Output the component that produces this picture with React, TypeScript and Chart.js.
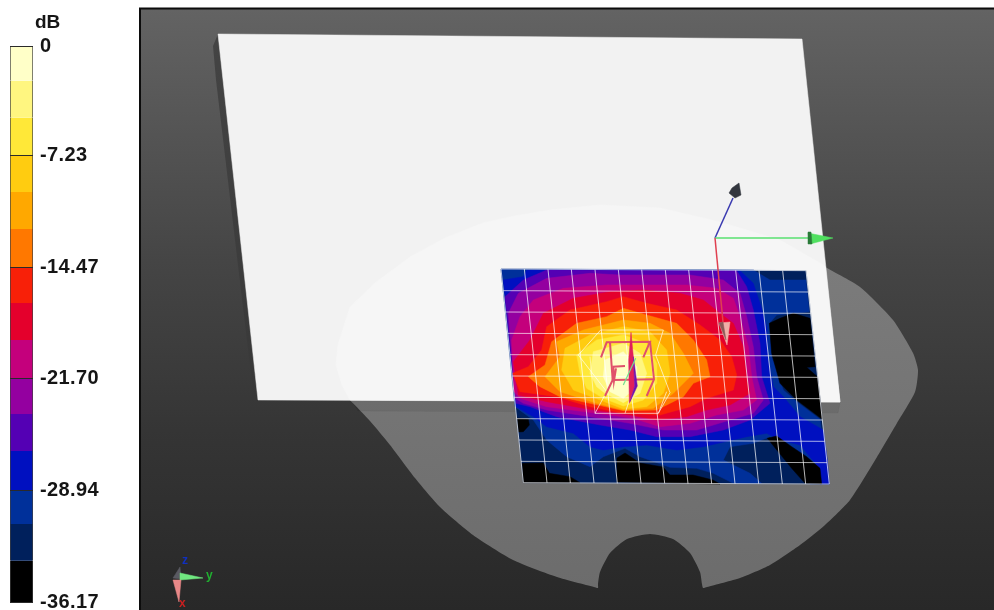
import React, { useEffect, useRef } from "react";
import { Chart, registerables } from "chart.js";

Chart.register(...registerables);

type P = number[][];

// ---------- colour scale ----------
const scaleTickValues = [-0.13, -7.23, -14.47, -21.7, -28.94, -36.17];
const scaleTickLabels = ["0", "-7.23", "-14.47", "-21.70", "-28.94", "-36.17"];
const bandEdges = [-0.13, -2.38, -4.78, -7.23, -9.59, -11.99, -14.47, -16.79, -19.18, -21.71, -23.98, -26.38, -28.97, -31.11, -33.49, -36.17];
const bandColors = ["#FFFFC8", "#FFF680", "#FFE838", "#FFCC10", "#FFA800", "#FF7800", "#F82008", "#E4002C", "#C4007C", "#9400A0", "#5400B4", "#0010C0", "#00309A", "#00205C", "#000000"];

// ---------- scene outlines (screen units) ----------
const sceneBack: P = [[141, 9], [994, 9], [994, 610], [141, 610]];
const frameLine: P = [[140, 610], [140, 8.5], [994, 8.5]];
const plate: P = [[218, 34], [802, 39], [840, 402], [258, 400]];
const plateSide: P = [[218, 34], [213, 46], [216, 80], [254, 400], [258, 400]];
const phantom: P = [[350, 400], [342, 385], [336, 365], [338, 345], [350, 307], [375, 283], [410, 257], [445, 238], [483, 223], [550, 210], [600, 205], [660, 208], [720, 222], [780, 240], [827, 268], [860, 287], [893, 320], [913, 353], [918, 370], [915, 392], [897, 423], [877, 457], [850, 500], [825, 525], [800, 545], [770, 565], [740, 578], [707, 587], [703, 588]];
const phantomNotch: P = [[702, 584], [700, 572], [690, 553], [673, 539], [650, 534], [627, 539], [610, 553], [600, 572], [598, 584], [598, 588]];
const phantomLower: P = [[594, 587], [557, 577], [513, 560], [473, 535], [440, 507], [415, 478], [390, 445], [370, 421]];
const phantomOnPlate: P = [[350, 400], [342, 385], [336, 365], [338, 345], [350, 307], [375, 283], [410, 257], [445, 238], [483, 223], [515, 216], [550, 210], [600, 205], [660, 208], [720, 222], [780, 240], [825, 266], [840, 402]];
const plateShadow: P = [[352, 401], [840, 403], [838, 413], [358, 411]];

// ---------- scan contours (scan units) ----------
const scanQuad: P = [[33, 27], [948, 32], [1018, 672], [100, 668]];
const blackRight: P = [[870, 175], [910, 160], [960, 175], [975, 320], [950, 322], [982, 350], [997, 478], [920, 420], [870, 370], [845, 280], [838, 190]];
const blackBottomRight: P = [[832, 535], [860, 528], [905, 560], [950, 590], [990, 625], [995, 672], [945, 670], [905, 625]];
const blackBottomLeft: P = [[97, 610], [160, 609], [178, 640], [240, 650], [270, 668], [100, 668]];
const blackBottomMid: P = [[381, 666], [381, 594], [405, 579], [450, 609], [519, 621], [540, 645], [609, 645], [669, 660], [690, 672]];
const blackLeft: P = [[82, 474], [115, 478], [118, 495], [100, 515], [86, 516]];
const contourMidBlue: P = [[33, 27], [790, 30], [840, 60], [948, 60], [958, 155], [860, 165], [838, 190], [845, 290], [880, 390], [920, 425], [990, 478], [1018, 672], [960, 672], [890, 600], [840, 530], [790, 550], [720, 560], [700, 600], [780, 640], [815, 670], [730, 670], [670, 640], [620, 625], [540, 622], [450, 590], [405, 565], [340, 590], [300, 620], [230, 590], [170, 540], [130, 480], [75, 440]];
const contourBlue: P = [[40, 60], [100, 50], [110, 30], [750, 32], [790, 70], [810, 130], [830, 200], [835, 300], [850, 380], [880, 410], [930, 470], [1000, 510], [1012, 600], [1018, 672], [990, 672], [985, 620], [930, 555], [870, 540], [830, 520], [770, 530], [640, 560], [560, 570], [470, 555], [400, 560], [340, 570], [300, 560], [250, 520], [170, 500], [130, 470], [78, 440]];
const contourViolet: P = [[45, 110], [100, 60], [170, 30], [740, 32], [770, 80], [790, 150], [810, 250], [815, 350], [840, 430], [780, 480], [700, 510], [600, 530], [500, 530], [420, 510], [330, 495], [200, 470], [120, 440], [78, 430]];
const contourPurple: P = [[55, 160], [85, 100], [170, 55], [300, 40], [390, 45], [600, 45], [700, 60], [750, 100], [770, 170], [790, 260], [800, 350], [820, 420], [790, 460], [720, 480], [620, 510], [520, 510], [420, 490], [300, 470], [170, 450], [100, 430], [76, 415]];
const contourMagenta: P = [[65, 240], [90, 170], [130, 120], [220, 85], [350, 75], [590, 75], [680, 85], [730, 115], [750, 170], [775, 260], [785, 350], [800, 420], [760, 450], [680, 465], [600, 490], [510, 500], [430, 475], [320, 460], [170, 440], [90, 415], [72, 395]];
const contourCrimson: P = [[70, 305], [120, 240], [160, 160], [250, 115], [360, 95], [460, 90], [570, 100], [640, 120], [690, 160], [730, 190], [760, 260], [770, 350], [780, 400], [720, 435], [650, 450], [590, 470], [500, 480], [420, 465], [310, 450], [170, 425], [85, 405]];
const contourRed: P = [[68, 340], [115, 320], [155, 270], [170, 200], [240, 150], [350, 125], [400, 110], [470, 130], [560, 150], [630, 195], [690, 240], [725, 290], [740, 345], [730, 390], [650, 415], [600, 440], [510, 465], [400, 460], [300, 440], [200, 410], [90, 395]];
const contourOrange: P = [[115, 350], [165, 315], [185, 245], [260, 190], [350, 170], [400, 145], [470, 165], [560, 190], [610, 240], [650, 300], [660, 350], [610, 370], [580, 410], [500, 450], [400, 452], [300, 430], [210, 410], [150, 380]];
const contourAmber: P = [[165, 350], [210, 290], [200, 245], [280, 210], [400, 180], [480, 190], [540, 220], [580, 280], [610, 340], [590, 360], [550, 400], [490, 445], [400, 450], [320, 430], [210, 395]];
const contourGold: P = [[215, 330], [225, 265], [300, 225], [400, 200], [480, 215], [530, 270], [540, 340], [520, 400], [470, 440], [400, 447], [330, 420], [250, 390]];
const contourYellow: P = [[270, 340], [260, 285], [320, 240], [400, 225], [470, 250], [500, 310], [500, 370], [460, 420], [400, 438], [340, 415], [290, 385]];
const contourPaleYellow: P = [[300, 340], [310, 275], [400, 250], [450, 280], [470, 340], [450, 400], [400, 428], [345, 400], [320, 380]];
const contourCream: P = [[340, 350], [345, 300], [400, 275], [440, 320], [440, 380], [400, 415], [360, 395]];

// grid of the scan
const gridTopX = [33, 103, 174, 244, 315, 385, 455, 526, 596, 667, 737, 807, 878, 948];
const gridTopY = [27, 27, 28, 28, 29, 29, 29, 30, 30, 30, 31, 31, 32, 32];
const gridBottomX = [100, 171, 241, 312, 382, 453, 524, 594, 665, 735, 806, 877, 947, 1018];
const gridBottomY = [668, 668, 669, 669, 670, 670, 670, 671, 671, 671, 671, 672, 672, 672];
const gridLeftX = [33, 40, 47, 53, 60, 67, 73, 80, 87, 93, 100];
const gridLeftY = [27, 92, 156, 220, 284, 348, 412, 476, 540, 604, 668];
const gridRightX = [948, 955, 962, 969, 976, 983, 990, 997, 1004, 1011, 1018];
const gridRightY = [32, 96, 160, 224, 288, 352, 416, 480, 544, 608, 672];

// wireframes over the scan
const boxOutline: P = [[332, 210], [520, 210], [497, 285], [540, 398], [505, 460], [315, 460], [350, 395], [265, 285], [332, 210]];
const boxInnerA: P = [[405, 460], [420, 415]];
const boxInnerB: P = [[505, 460], [530, 395]];
const boxInnerC: P = [[300, 290], [315, 460]];
const frameTop: P = [[333, 292], [350, 247], [480, 245], [460, 292]];
const frameRight: P = [[480, 245], [492, 358], [470, 408]];
const frameBase: P = [[345, 408], [368, 360], [492, 358]];
const frameLeft: P = [[360, 248], [368, 360]];
const frameInner: P = [[405, 318], [370, 320], [372, 362], [378, 325]];
const bladeWarm: P = [[423, 217], [430, 290], [434, 378], [418, 430], [416, 300]];
const bladeCool: P = [[430, 290], [442, 378], [420, 425], [434, 378]];
const feedLine: P = [[400, 375], [437, 295]];

// axis triad
const axisRed: P = [[715, 238], [723, 322]];
const axisGreen: P = [[715, 238], [810, 238]];
const axisBlue: P = [[715, 238], [733, 198]];
const coneRed: P = [[719, 323], [730, 322], [727, 345]];
const coneRedShade: P = [[719, 323], [723, 322], [726, 340]];
const coneGreen: P = [[808, 233], [833, 238], [810, 244]];
const coneGreenBase: P = [[808, 232], [811, 232], [812, 244], [808, 244]];
const coneBlue: P = [[739, 183], [741, 195], [735, 198], [729, 193], [732, 188]];
const miniGreen: P = [[180, 573], [203, 578], [180, 580]];
const miniRed: P = [[173, 580], [181, 580], [179, 602]];
const miniGrey: P = [[173, 578], [180, 567], [181, 579]];

const pts = (p: P) => p.map(([x, y]) => ({ x, y }));
const close = (p: P) => [...p, p[0]];

const poly = (p: P, color: any, scan = false, tension = 0) => ({
  data: pts(close(p)),
  showLine: true,
  fill: "shape",
  backgroundColor: color,
  borderColor: typeof color === "string" ? color : "transparent",
  borderWidth: 0.5,
  pointRadius: 0,
  tension,
  xAxisID: scan ? "sx" : "x",
  yAxisID: scan ? "sy" : "y",
});
const line = (p: P, color: string, width = 1, scan = false) => ({
  data: pts(p),
  showLine: true,
  fill: false,
  borderColor: color,
  backgroundColor: color,
  borderWidth: width,
  pointRadius: 0,
  xAxisID: scan ? "sx" : "x",
  yAxisID: scan ? "sy" : "y",
});

const textStyle = (left: number, top: number, color: string, size: number): React.CSSProperties => ({
  position: "absolute",
  left,
  top,
  color,
  fontFamily: '"Liberation Sans", sans-serif',
  fontWeight: 700,
  fontSize: size,
  lineHeight: 1,
});

export default function App() {
  const sceneRef = useRef<HTMLCanvasElement>(null);
  const barRef = useRef<HTMLCanvasElement>(null);

  useEffect(() => {
    document.body.style.margin = "0";
    const ctx = sceneRef.current!.getContext("2d")!;
    const bg = ctx.createLinearGradient(0, 9, 0, 610);
    bg.addColorStop(0, "#636363");
    bg.addColorStop(0.42, "#454545");
    bg.addColorStop(0.7, "#353535");
    bg.addColorStop(1, "#282828");
    const ph = ctx.createLinearGradient(0, 205, 0, 590);
    ph.addColorStop(0, "#7e7e7e");
    ph.addColorStop(1, "#6c6c6c");
    const side = ctx.createLinearGradient(0, 34, 0, 400);
    side.addColorStop(0, "#444444");
    side.addColorStop(1, "#383838");

    const grid: any[] = [];
    gridTopX.forEach((x, i) => grid.push(line([[x, gridTopY[i]], [gridBottomX[i], gridBottomY[i]]], "rgba(255,255,255,0.72)", 1, true)));
    gridLeftX.forEach((x, i) => grid.push(line([[x, gridLeftY[i]], [gridRightX[i], gridRightY[i]]], "rgba(255,255,255,0.66)", 1, true)));

    const layers: any[] = [
      poly(sceneBack, bg),
      poly([...phantom, ...phantomNotch, ...phantomLower], ph, false, 0.2),
      poly(plateShadow, "rgba(0,0,0,0.07)"),
      poly(plateSide, side),
      poly(plate, "#F2F2F2"),
      poly(phantomOnPlate, "#F6F6F6"),
      poly(scanQuad, bandColors[13], true),
      poly(blackBottomLeft, bandColors[14], true),
      poly(contourMidBlue, bandColors[12], true),
      poly(blackRight, bandColors[14], true),
      poly(blackBottomMid, bandColors[14], true),
      poly(blackLeft, bandColors[14], true),
      poly(contourBlue, bandColors[11], true),
      poly(blackBottomRight, bandColors[14], true),
      poly(contourViolet, bandColors[10], true),
      poly(contourPurple, bandColors[9], true),
      poly(contourMagenta, bandColors[8], true),
      poly(contourCrimson, bandColors[7], true),
      poly(contourRed, bandColors[6], true),
      poly(contourOrange, bandColors[5], true),
      poly(contourAmber, bandColors[4], true),
      poly(contourGold, bandColors[3], true),
      poly(contourYellow, bandColors[2], true),
      poly(contourPaleYellow, bandColors[1], true),
      poly(contourCream, bandColors[0], true),
      ...grid,
      line(boxOutline, "rgba(255,255,255,0.65)", 1, true),
      line(boxInnerA, "rgba(255,255,255,0.65)", 1, true),
      line(boxInnerB, "rgba(255,255,255,0.65)", 1, true),
      line(boxInnerC, "rgba(255,255,255,0.5)", 1, true),
      line(frameTop, "#E0506A", 2, true),
      line(frameRight, "#E0506A", 2, true),
      line(frameBase, "#E0506A", 2, true),
      line(frameLeft, "#E0506A", 2, true),
      line(frameInner, "#E0506A", 2, true),
      poly(bladeWarm, "#E0205A", true),
      poly(bladeCool, "#7010B0", true),
      line(feedLine, "#70E090", 1.2, true),
      line(axisBlue, "#3A3AB0", 1.5),
      line(axisGreen, "#58E070", 1.5),
      line(axisRed, "#E04050", 1.5),
      poly(coneBlue, "#33363E"),
      poly(coneRed, "#F0B0A8"),
      poly(coneRedShade, "#8A5A58"),
      poly(coneGreen, "#50E060"),
      poly(coneGreenBase, "#2A7A38"),
      poly(miniGrey, "#5A5A62"),
      poly(miniGreen, "#70E880"),
      poly(miniRed, "#E88888"),
      line(frameLine, "#0C0C0C", 2),
    ];

    const scene = new Chart(sceneRef.current!, {
      type: "scatter",
      data: { datasets: layers.slice().reverse() },
      options: {
        animation: false,
        responsive: false,
        events: [],
        layout: { padding: 0 },
        plugins: { legend: { display: false }, tooltip: { enabled: false } },
        scales: {
          x: { type: "linear", min: 0, max: 994, display: false },
          y: { type: "linear", min: 0, max: 610, reverse: true, display: false },
          sx: { type: "linear", min: -1470, max: 1512, display: false },
          sy: { type: "linear", min: -780, max: 1050, reverse: true, display: false },
        },
      },
    } as any);

    const spacing = {
      id: "spacing",
      beforeDraw(c: any) {
        c.ctx.letterSpacing = "0.4px";
      },
    };

    const bar = new Chart(barRef.current!, {
      type: "bar",
      data: {
        labels: ["dB"],
        datasets: bandColors.map((color, i) => ({
          data: [[bandEdges[i + 1], bandEdges[i]]],
          backgroundColor: color,
          borderColor: "#404040",
          borderWidth: { left: 1, right: 1, top: 0, bottom: 0 },
          borderSkipped: false,
          barPercentage: 1,
          categoryPercentage: 1,
          grouped: false,
        })),
      },
      options: {
        animation: false,
        responsive: false,
        events: [],
        layout: { padding: { left: 10, top: 46, bottom: 48, right: 0 } },
        plugins: { legend: { display: false }, tooltip: { enabled: false } },
        scales: {
          x: { display: false },
          y: {
            position: "right",
            min: -36.17,
            max: -0.13,
            afterBuildTicks: (s: any) => {
              s.ticks = scaleTickValues.map((value) => ({ value }));
            },
            afterFit: (s: any) => {
              s.width = 107;
            },
            border: { display: false },
            grid: { color: "#2A2A2A", z: 1, drawTicks: false, lineWidth: 1 },
            ticks: {
              autoSkip: false,
              padding: 7,
              color: "#151515",
              font: { family: '"Liberation Sans", sans-serif', size: 20, weight: "bold" },
              callback: (_v: any, i: number) => scaleTickLabels[i],
            },
          },
        },
      },
      plugins: [spacing],
    } as any);

    return () => {
      scene.destroy();
      bar.destroy();
    };
  }, []);

  return (
    <div style={{ position: "relative", width: 994, height: 610, overflow: "hidden", background: "#fff" }}>
      <canvas ref={sceneRef} width={994} height={610} style={{ position: "absolute", left: 0, top: 0 }} />
      <canvas ref={barRef} width={140} height={650} style={{ position: "absolute", left: 0, top: 0 }} />
      <div style={textStyle(35, 12, "#151515", 19)}>dB</div>
      <div style={textStyle(182, 554, "#1030C0", 12)}>z</div>
      <div style={textStyle(206, 569, "#20B030", 12)}>y</div>
      <div style={textStyle(179, 597, "#C82020", 12)}>x</div>
    </div>
  );
}
